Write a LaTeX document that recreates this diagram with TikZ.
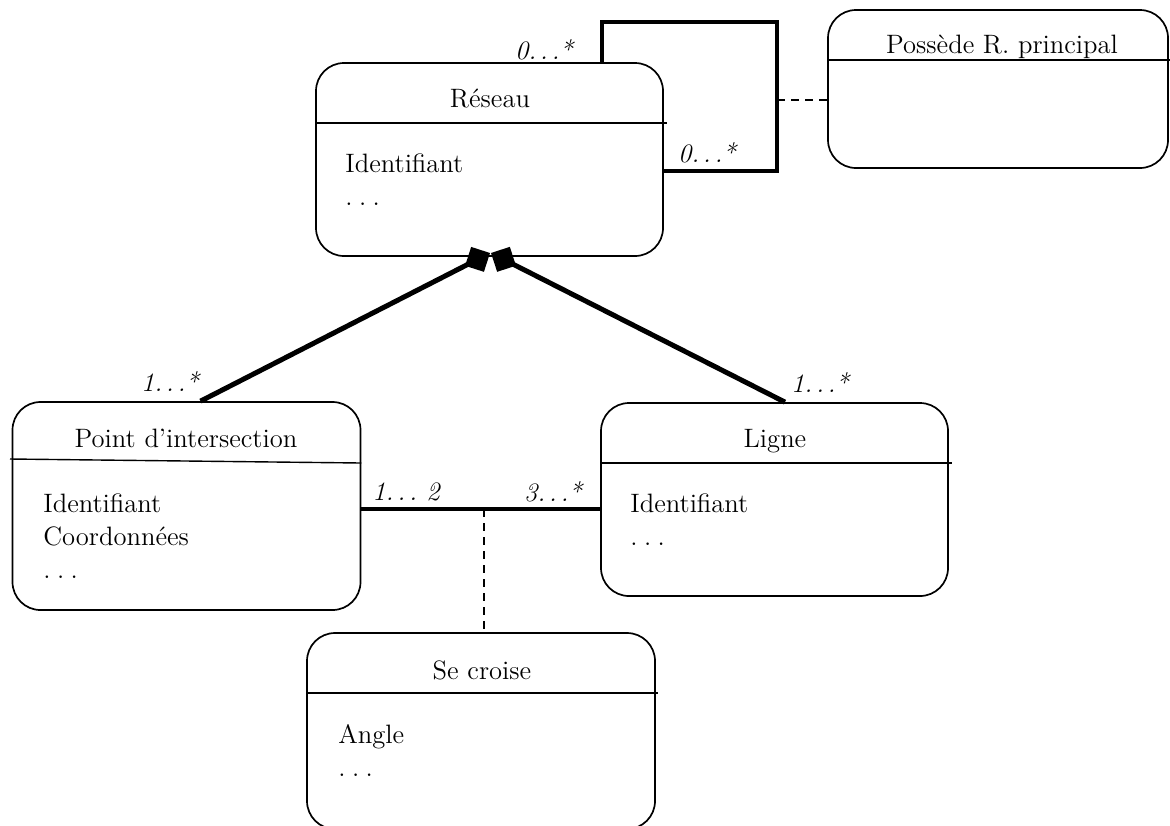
\documentclass[tikz,border=0pt]{standalone}
\usepackage{fontspec}
\usetikzlibrary{arrows.meta}
\newcommand\mydots{.\kern.24em.\kern.24em.}
\newcommand\mydotsm{.\kern.14em.\kern.14em.}
\begin{document}
\begin{tikzpicture}[x=0.5pt,y=-0.5pt,
  font=\fontsize{13.3pt}{15pt}\selectfont,
  cls/.style={draw, line width=0.85pt, rounded corners=14pt, inner sep=0pt},
  sep/.style={line width=0.7pt},
  ttl/.style={anchor=base, inner sep=0pt},
  attr/.style={anchor=base west, inner sep=0pt},
  mult/.style={inner sep=0pt, font=\fontsize{13.3pt}{15pt}\selectfont\itshape},
  compo/.style={line width=2.5pt, {Diamond[length=14pt,width=14pt]}-},
  selfassoc/.style={line width=2pt, line join=miter},
  assoc/.style={line width=1.7pt},
  dashlink/.style={line width=0.8pt, dash pattern=on 4pt off 3pt}]
\clip (0,0) rectangle (1170,825);
\fill[white] (0,0) rectangle (1170,825);

% classes
\node[cls, minimum width=173.5pt, minimum height=96.5pt] (res) at (489.5,159.5) {};
\node[cls, minimum width=170pt, minimum height=79pt] (pos) at (998,89) {};
\node[cls, minimum width=174pt, minimum height=104pt] (pt) at (186.5,506) {};
\node[cls, minimum width=173.5pt, minimum height=96.5pt] (lig) at (774.5,499.5) {};
\node[cls, minimum width=174pt, minimum height=98pt] (sec) at (481,731) {};

% separators
\draw[sep] (res.west |- 0,123) -- (667,123);
\draw[sep] (pos.west |- 0,60) -- (1172,60);
\draw[sep] (10,459) -- (pt.east |- 0,463);
\draw[sep] (lig.west |- 0,463) -- (952,463);
\draw[sep] (sec.west |- 0,693) -- (658,693);

% titles
\node[ttl] (tres) at (490,107) {Réseau};
\node[ttl] (tpos) at (1002,53) {Possède R. principal};
\node[ttl] (tpt) at (186,447) {Point d’intersection};
\node[ttl] (tlig) at (775,447) {Ligne};
\node[ttl] (tsec) at (482,679) {Se croise};

% attributes
\node[attr] (ares1) at (345,172) {Identifiant};
\node[attr] (ares2) at (345,205) {\mydots};
\node[attr] (apt1) at (43,512) {Identifiant};
\node[attr] (apt2) at (43,545) {Coordonnées};
\node[attr] (apt3) at (43,578) {\mydots};
\node[attr] (alig1) at (630,512) {Identifiant};
\node[attr] (alig2) at (630,545) {\mydots};
\node[attr] (asec1) at (338,743) {Angle};
\node[attr] (asec2) at (338,776) {\mydots};

% self association
\coordinate (s1) at (602,22);
\coordinate (s2) at (777,22);
\coordinate (s3) at (777,171);
\draw[selfassoc] (res.north -| s1) -- (s1) -- (s2) -- (s3) -- (res.east |- s3);
\coordinate (d1) at (777,100);
\draw[dashlink] (d1) -- (pos.west |- d1);
\node[mult] (m1) at (544,50) {0\mydotsm*};
\node[mult] (m2) at (707,153) {0\mydotsm*};

% compositions
\coordinate (dl) at (490,253);
\coordinate (dr) at (491,253);
\draw[compo] (dl) -- ([xshift=7pt]pt.north);
\draw[compo] (dr) -- ([xshift=5.25pt]lig.north);
\node[mult] (m3) at (170,382) {1\mydotsm*};
\node[mult] (m4) at (820,383) {1\mydotsm*};

% association
\coordinate (a1) at (484,509);
\draw[assoc] (pt.east |- a1) -- (lig.west |- a1);
\draw[dashlink] (a1) -- (sec.north -| a1);
\node[mult] (m5) at (406,492) {1\mydotsm\ 2};
\node[mult] (m6) at (553,492) {3\mydotsm*};
\end{tikzpicture}
\end{document}
